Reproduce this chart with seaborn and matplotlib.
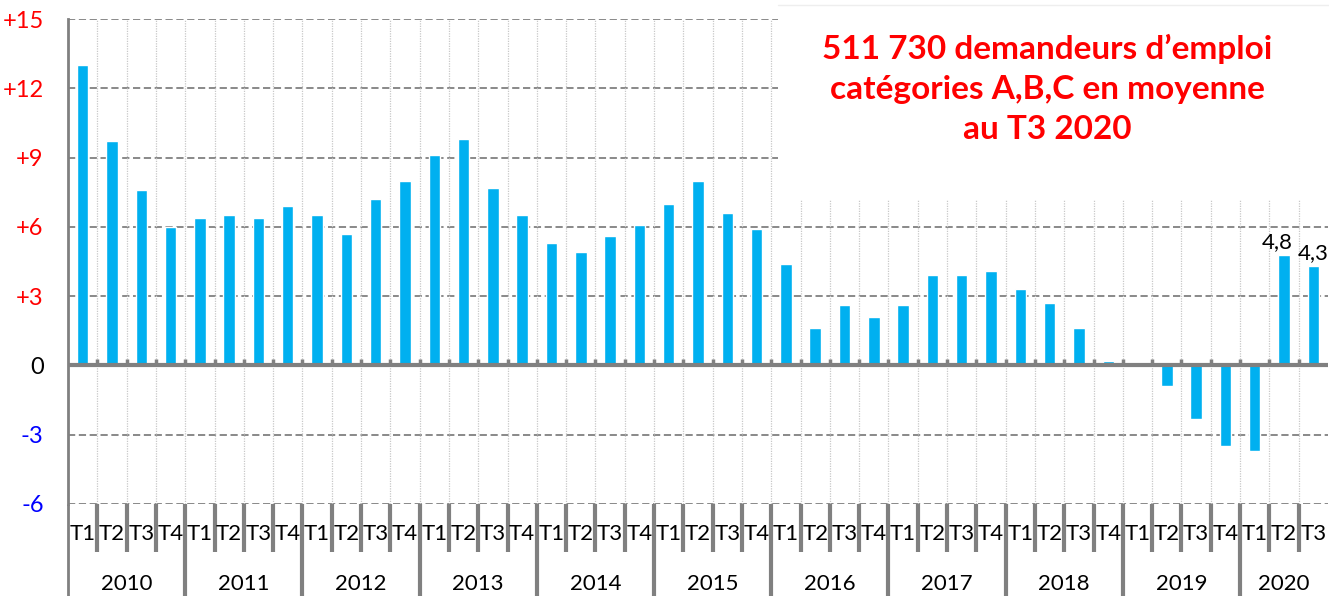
import matplotlib
matplotlib.use('Agg')
import matplotlib.pyplot as plt
import matplotlib.transforms as mtransforms
from matplotlib.patches import Rectangle
import pandas as pd
import seaborn as sns

# Evolution sur un an des demandeurs d'emploi (cat. A,B,C), en %
years = ['2010', '2011', '2012', '2013', '2014', '2015',
         '2016', '2017', '2018', '2019', '2020']
quarters = ['T1', 'T2', 'T3', 'T4']
values = [13.0, 9.7, 7.6, 6.0,
          6.4, 6.5, 6.4, 6.9,
          6.5, 5.7, 7.2, 8.0,
          9.1, 9.8, 7.7, 6.5,
          5.3, 4.9, 5.6, 6.1,
          7.0, 8.0, 6.6, 5.9,
          4.4, 1.6, 2.6, 2.1,
          2.6, 3.9, 3.9, 4.1,
          3.3, 2.7, 1.6, 0.2,
          0.0, -0.9, -2.3, -3.5,
          -3.7, 4.8, 4.3]

label_periods = ['2020 T2', '2020 T3']
label_texts = ['4,8', '4,3']

yticks = [-6, -3, 0, 3, 6, 9, 12, 15]
ytick_labels = ['-6', '-3', '0', '+3', '+6', '+9', '+12', '+15']
ytick_colors = ['#0000FF', '#0000FF', '#000000', '#FF0000', '#FF0000',
                '#FF0000', '#FF0000', '#FF0000']

title = "511 730 demandeurs d\u2019emploi\ncatégories A,B,C en moyenne\nau T3 2020"

# build the table
periods, period_year, period_q = [], [], []
for y in years:
    for q in quarters:
        if len(periods) < len(values):
            periods.append(f'{y} {q}')
            period_year.append(y)
            period_q.append(q)
df = pd.DataFrame({'periode': periods, 'annee': period_year,
                   'trimestre': period_q, 'valeur': values})

sns.set_style('white')
plt.rcParams['font.family'] = ['Lato', 'DejaVu Sans']

grey = '#808080'
fig = plt.figure(figsize=(13.29, 5.96), dpi=100)
ax = fig.add_axes([68 / 1329, 92 / 596, 1260 / 1329, 485 / 596])

sns.barplot(data=df, x='periode', y='valeur', order=periods, color='#00B0F0',
            saturation=1, width=0.39, ax=ax, zorder=3)

n = len(periods)
ax.set_xlim(-0.5, n - 0.5)
ax.set_ylim(-6, 15)

# grid
ax.set_axisbelow(True)
ax.yaxis.grid(True, linestyle=(0, (4, 2)), color=grey, lw=1.3)
ax.xaxis.grid(False)
bounds = [i - 0.5 for i in range(1, n)]
ax.vlines(bounds, -6, 15, colors='#c8c8c8', linestyles=(0, (1, 1)), lw=0.9, zorder=1)

# white box behind the title
box_x0 = (778 - 68) / 1260
box = Rectangle((box_x0, (504 - 200) / 485), 1.05 - box_x0, (200 - 5) / 485,
                transform=ax.transAxes, facecolor='white', edgecolor='none',
                zorder=2, clip_on=False)
ax.add_patch(box)
ax.plot([box_x0, 1.05], [(504 - 5) / 485] * 2, transform=ax.transAxes,
        color='#eeeeee', lw=1, clip_on=False, zorder=2)
ax.text((1047 - 68) / 1260, (504 - 89) / 485, title, transform=ax.transAxes,
        ha='center', va='center', color='#FF0000', fontsize=24,
        fontweight='bold', linespacing=1.45, zorder=5)

# zero line with small marks
ax.axhline(0, color=grey, lw=3, zorder=4)
ax.vlines(bounds, 0, 0.28, colors=grey, lw=2.5, zorder=4)

# value labels
for p, t in zip(label_periods, label_texts):
    i = periods.index(p)
    v = df.loc[i, 'valeur']
    ax.annotate(t, (i, v), xytext=(-5 if t == '4,8' else 0, 2),
                textcoords='offset points', ha='center', va='bottom',
                fontsize=16, color='black', zorder=5, annotation_clip=False)

# spines and ticks
for s in ['top', 'right', 'bottom']:
    ax.spines[s].set_visible(False)
ax.spines['left'].set_color(grey)
ax.spines['left'].set_linewidth(2)
ax.set_yticks(yticks)
ax.set_yticklabels(ytick_labels)
for lab, c in zip(ax.get_yticklabels(), ytick_colors):
    lab.set_color(c)
ax.tick_params(axis='y', length=4.5, width=1.2, color=grey, pad=13, labelsize=17)
ax.set_xticks([])
ax.set_xlabel('')
ax.set_ylabel('')

# two-level category axis
trans = mtransforms.blended_transform_factory(ax.transData, ax.transAxes)
for i, (q, y) in enumerate(zip(period_q, period_year)):
    ax.text(i, (504 - 534) / 485, q, transform=trans, ha='center', va='center',
            fontsize=16, color='black')
for i in range(1, n):
    if i % 4 != 0:
        ax.plot([i - 0.5, i - 0.5], [0, (504 - 552) / 485], transform=trans,
                color=grey, lw=3, clip_on=False, solid_capstyle='butt')
for k in range(0, n, 4):
    ax.plot([k - 0.5, k - 0.5], [0, -0.2], transform=trans,
            color=grey, lw=3 if k > 0 else 2, clip_on=False, solid_capstyle='butt')
for y in years:
    idx = [i for i, yy in enumerate(period_year) if yy == y]
    ax.text((idx[0] + idx[-1]) / 2, (504 - 584) / 485, y, transform=trans,
            ha='center', va='center', fontsize=16, color='black')

fig.savefig('out.png', dpi=100)
